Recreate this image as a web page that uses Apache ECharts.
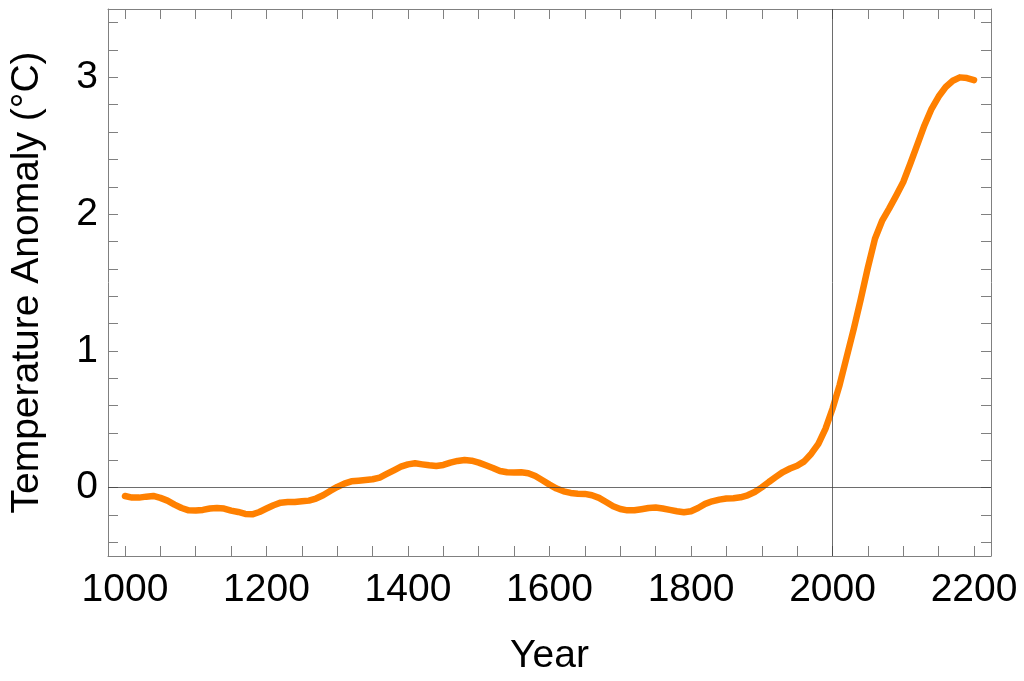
<!DOCTYPE html>
<html>
<head>
<meta charset="utf-8">
<title>Temperature Anomaly</title>
<script src="https://cdn.jsdelivr.net/npm/echarts@6/dist/echarts.min.js"></script>
<style>
  html, body { margin: 0; padding: 0; background: #fff; }
  #chart { width: 1024px; height: 681px; }
</style>
</head>
<body>
<div id="chart"></div>
<script>
// years and anomaly values
var years = [
  1000, 1010, 1020, 1030, 1040, 1050, 1060, 1070, 1080, 1090,
  1100, 1110, 1120, 1130, 1140, 1150, 1160, 1170, 1180, 1190,
  1200, 1210, 1220, 1230, 1240, 1250, 1260, 1270, 1280, 1290,
  1300, 1310, 1320, 1330, 1340, 1350, 1360, 1370, 1380, 1390,
  1400, 1410, 1420, 1430, 1440, 1450, 1460, 1470, 1480, 1490,
  1500, 1510, 1520, 1530, 1540, 1550, 1560, 1570, 1580, 1590,
  1600, 1610, 1620, 1630, 1640, 1650, 1660, 1670, 1680, 1690,
  1700, 1710, 1720, 1730, 1740, 1750, 1760, 1770, 1780, 1790,
  1800, 1810, 1820, 1830, 1840, 1850, 1860, 1870, 1880, 1890,
  1900, 1910, 1920, 1930, 1940, 1950, 1960, 1970, 1980, 1990,
  2000, 2010, 2020, 2030, 2040, 2050, 2060, 2070, 2080, 2090,
  2100, 2110, 2120, 2130, 2140, 2150, 2160, 2170, 2180, 2190,
  2200
];
var anomaly = [
  -0.061, -0.073, -0.073, -0.066, -0.061, -0.075, -0.095, -0.124, -0.149, -0.166,
  -0.168, -0.163, -0.153, -0.149, -0.153, -0.168, -0.178, -0.192, -0.195, -0.178,
  -0.153, -0.129, -0.110, -0.105, -0.105, -0.100, -0.095, -0.080, -0.056, -0.024,
  0.005, 0.029, 0.046, 0.051, 0.056, 0.061, 0.073, 0.100, 0.127, 0.153,
  0.170, 0.178, 0.170, 0.163, 0.158, 0.166, 0.183, 0.195, 0.202, 0.197,
  0.183, 0.163, 0.144, 0.122, 0.112, 0.110, 0.112, 0.105, 0.085, 0.054,
  0.022, -0.007, -0.027, -0.039, -0.044, -0.046, -0.056, -0.075, -0.105, -0.136,
  -0.156, -0.166, -0.166, -0.158, -0.149, -0.146, -0.153, -0.163, -0.173, -0.180,
  -0.173, -0.149, -0.119, -0.100, -0.088, -0.080, -0.078, -0.071, -0.056, -0.032,
  0.002, 0.041, 0.078, 0.114, 0.140, 0.160, 0.192, 0.248, 0.320, 0.430,
  0.577, 0.750, 0.955, 1.160, 1.380, 1.610, 1.820, 1.950, 2.040, 2.135,
  2.235, 2.370, 2.510, 2.650, 2.770, 2.860, 2.930, 2.975, 3.000, 2.995,
  2.980
];

var xLabels = [1000, 1200, 1400, 1600, 1800, 2000, 2200];
var xTicks = [1000, 1050, 1100, 1150, 1200, 1250, 1300, 1350, 1400, 1450, 1500, 1550, 1600,
  1650, 1700, 1750, 1800, 1850, 1900, 1950, 2000, 2050, 2100, 2150, 2200];
var yLabels = [0, 1, 2, 3];
var yTicks = [-0.4, -0.2, 0, 0.2, 0.4, 0.6, 0.8, 1, 1.2, 1.4, 1.6, 1.8, 2, 2.2, 2.4, 2.6, 2.8,
  3, 3.2, 3.4];
var refLines = { year: 2000, anomaly: 0 };

var frameColor = '#808080';
var font = '"Liberation Sans", Arial, sans-serif';
var fontSize = 39;

var points = years.map(function (y, i) { return [y, anomaly[i]]; });

function plain(v) { return String(v); }

function xAxisOf(pos, withLabels) {
  return {
    type: 'value',
    position: pos,
    min: 976,
    max: 2224,
    name: withLabels ? 'Year' : '',
    nameLocation: 'middle',
    nameGap: 81,
    nameTextStyle: { fontSize: fontSize, color: '#000', fontFamily: font },
    axisLine: { show: true, onZero: false, lineStyle: { color: frameColor, width: 1 } },
    axisTick: { show: true, inside: true, length: 10, customValues: xTicks,
      lineStyle: { color: frameColor, width: 1 } },
    axisLabel: { show: withLabels, customValues: xLabels, fontSize: fontSize, color: '#000',
      fontFamily: font, margin: 15, formatter: plain },
    splitLine: { show: false }
  };
}

function yAxisOf(pos, withLabels) {
  return {
    type: 'value',
    position: pos,
    min: -0.5,
    max: 3.5,
    name: withLabels ? 'Temperature Anomaly (°C)' : '',
    nameLocation: 'middle',
    nameGap: 61,
    nameTextStyle: { fontSize: fontSize, color: '#000', fontFamily: font },
    axisLine: { show: true, onZero: false, lineStyle: { color: frameColor, width: 1 } },
    axisTick: { show: true, inside: true, length: 10, customValues: yTicks,
      lineStyle: { color: frameColor, width: 1 } },
    axisLabel: { show: withLabels, customValues: yLabels, fontSize: fontSize, color: '#000',
      fontFamily: font, margin: 10, formatter: plain },
    splitLine: { show: false }
  };
}

var chart = echarts.init(document.getElementById('chart'), null, { renderer: 'canvas' });
chart.setOption({
  animation: false,
  backgroundColor: '#fff',
  grid: { left: 105, right: 33, top: 9, bottom: 124, containLabel: false },
  xAxis: [xAxisOf('bottom', true), xAxisOf('top', false)],
  yAxis: [yAxisOf('left', true), yAxisOf('right', false)],
  series: [{
    type: 'line',
    data: points,
    xAxisIndex: 0,
    yAxisIndex: 0,
    showSymbol: false,
    smooth: false,
    lineStyle: { color: '#ff8000', width: 6.5, cap: 'round', join: 'round' },
    markLine: {
      silent: true,
      symbol: ['none', 'none'],
      label: { show: false },
      lineStyle: { color: 'rgba(60,60,60,0.75)', width: 1, type: 'solid' },
      emphasis: { disabled: true },
      data: [{ yAxis: refLines.anomaly }, { xAxis: refLines.year }]
    }
  }]
});
</script>
</body>
</html>
